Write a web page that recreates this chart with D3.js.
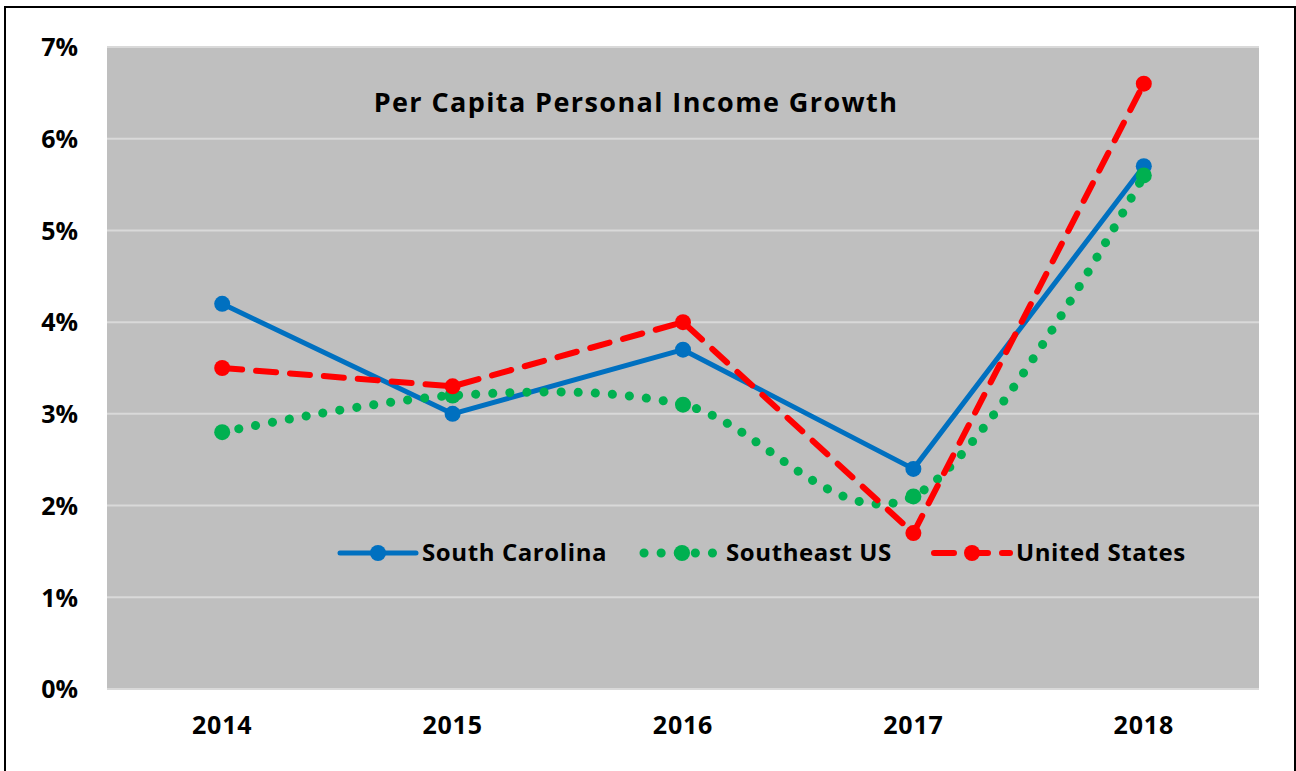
<!DOCTYPE html>
<html>
<head>
<meta charset="utf-8">
<script src="https://cdn.jsdelivr.net/npm/d3@7"></script>
<style>
  body { margin: 0; background: #fff; }
  text { font-family: "Open Sans", Lato, sans-serif; font-weight: bold; fill: #000; }
</style>
</head>
<body>
<svg id="chart" width="1296" height="771"></svg>
<script>
const years = ["2014", "2015", "2016", "2017", "2018"];
const southCarolina = [4.2, 3.0, 3.7, 2.4, 5.7];
const southeastUS = [2.8, 3.2, 3.1, 2.1, 5.6];
const unitedStates = [3.5, 3.3, 4.0, 1.7, 6.6];
const yTicks = [0, 1, 2, 3, 4, 5, 6, 7];

const PLOT = { left: 107, right: 1259, top: 47, bottom: 689 };

var svg = d3.select("#chart");

// outer frame
svg.append("rect")
    .attr("x", 5).attr("y", 7)
    .attr("width", 1290).attr("height", 780)
    .attr("fill", "none").attr("stroke", "#000").attr("stroke-width", 2);

var x = d3.scaleBand()
    .domain(years)
    .range([PLOT.left, PLOT.right]);

var y = d3.scaleLinear()
    .domain([0, 7])
    .range([PLOT.bottom, PLOT.top]);

svg.append("rect")
    .attr("x", PLOT.left).attr("y", PLOT.top)
    .attr("width", PLOT.right - PLOT.left).attr("height", PLOT.bottom - PLOT.top)
    .attr("fill", "#bfbfbf");

svg.selectAll(".grid")
    .data(yTicks)
    .enter().append("line")
    .attr("x1", PLOT.left).attr("x2", PLOT.right)
    .attr("y1", function(d) { return y(d); })
    .attr("y2", function(d) { return y(d); })
    .attr("stroke", "#d9d9d9").attr("stroke-width", 2);

// axes (labels only)
var yAxis = svg.append("g")
    .attr("transform", "translate(" + (PLOT.left - 29) + ",0)")
    .call(d3.axisLeft(y).tickValues(yTicks).tickSize(0).tickFormat(function(d) { return d + "%"; }));
yAxis.select(".domain").remove();
yAxis.selectAll("text").style("font-size", "25px").attr("dy", "0.35em").attr("x", 0);

var xAxis = svg.append("g")
    .attr("transform", "translate(0," + (PLOT.bottom + 27) + ")")
    .call(d3.axisBottom(x).tickSize(0));
xAxis.select(".domain").remove();
xAxis.selectAll("text").style("font-size", "25px").style("letter-spacing", "0.8px")
    .attr("dy", "0.71em").attr("y", 0);

svg.append("text")
    .attr("x", 636).attr("y", 112)
    .attr("text-anchor", "middle")
    .style("font-size", "27px")
    .style("letter-spacing", "1.4px")
    .text("Per Capita Personal Income Growth");

var series = [
    { name: "South Carolina", values: southCarolina, color: "#0070c0", dash: null, cap: "round", width: 5, curve: d3.curveLinear },
    { name: "Southeast US", values: southeastUS, color: "#00b050", dash: "0.1 17", cap: "round", width: 9, curve: d3.curveCardinal.tension(0) },
    { name: "United States", values: unitedStates, color: "#ff0000", dash: "20 14", cap: "round", width: 6, curve: d3.curveLinear }
];

series.forEach(function(s) {
    var line = d3.line()
        .x(function(d, i) { return x(years[i]) + x.bandwidth() / 2; })
        .y(function(d) { return y(d); })
        .curve(s.curve);

    svg.append("path")
        .datum(s.values)
        .attr("d", line)
        .attr("fill", "none")
        .attr("stroke", s.color)
        .attr("stroke-width", s.width)
        .attr("stroke-linecap", s.cap)
        .attr("stroke-linejoin", "round")
        .attr("stroke-dasharray", s.dash);

    svg.selectAll(null)
        .data(s.values)
        .enter().append("circle")
        .attr("cx", function(d, i) { return x(years[i]) + x.bandwidth() / 2; })
        .attr("cy", function(d) { return y(d); })
        .attr("r", 8)
        .attr("fill", s.color);
});

// legend
var legendX = [337, 641, 931];
var legendY = 553;
series.forEach(function(s, i) {
    var g = svg.append("g").attr("transform", "translate(" + legendX[i] + "," + legendY + ")");
    g.append("line")
        .attr("x1", 3).attr("x2", 79)
        .attr("stroke", s.color)
        .attr("stroke-width", s.width)
        .attr("stroke-linecap", s.cap)
        .attr("stroke-dasharray", s.dash);
    g.append("circle").attr("cx", 41).attr("r", 8).attr("fill", s.color);
    g.append("text")
        .attr("x", 85).attr("dy", "0.35em")
        .style("font-size", "24px")
        .style("letter-spacing", "0.6px")
        .text(s.name);
});
</script>
</body>
</html>
